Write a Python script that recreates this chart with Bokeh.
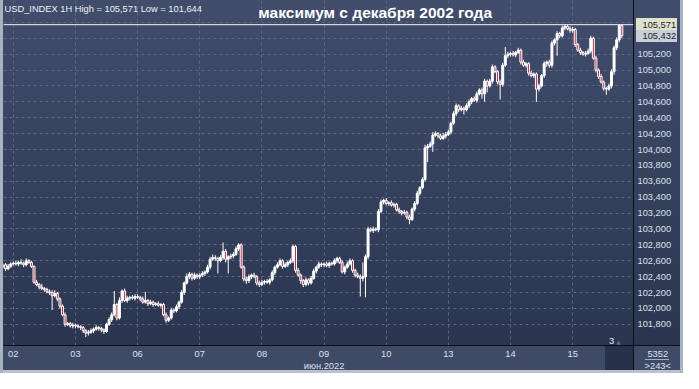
from bokeh.plotting import figure
from bokeh.models import (Range1d, FixedTicker, CustomJSTickFormatter, Span, Label,
                          ColumnDataSource, LinearAxis)
from bokeh.embed import file_html
from bokeh.resources import INLINE

# ---------------- data (USD_INDEX, 1H bars, June 2022) ----------------
day_labels = ["02", "03", "06", "07", "08", "09", "10", "13", "14", "15"]
month_label = "июн.2022"
month_under = "09"
header_text = "USD_INDEX 1H High = 105,571 Low = 101,644"
title_text = "максимум с декабря 2002 года"
corner_texts = ["5352", ">243<"]
period_high = 105.571
price_ticks = [101.8, 102.0, 102.2, 102.4, 102.6, 102.8, 103.0, 103.2, 103.4, 103.6,
               103.8, 104.0, 104.2, 104.4, 104.6, 104.8, 105.0, 105.2, 105.4, 105.6]

first_open = 102.52
close_jun01 = [102.55, 102.50, 102.53, 102.56]
close_jun02 = [102.57, 102.56, 102.58, 102.57, 102.55, 102.60, 102.58, 102.53, 102.33, 102.30,
               102.27, 102.25, 102.24, 102.21, 102.20, 102.16, 102.19, 102.12, 102.03, 101.92,
               101.80, 101.81, 101.78, 101.79]
close_jun03 = [101.78, 101.77, 101.76, 101.72, 101.69, 101.70, 101.72, 101.74, 101.76, 101.75,
               101.73, 101.71, 101.80, 101.86, 101.92, 102.05, 101.88, 102.10, 102.22, 102.10,
               102.13, 102.14, 102.13, 102.15]
close_jun06 = [102.14, 102.12, 102.08, 102.10, 102.06, 102.08, 102.05, 102.06, 102.04, 102.05,
               101.92, 101.85, 101.88, 101.98, 101.97, 102.02, 102.08, 102.20, 102.32, 102.40,
               102.43, 102.38, 102.42, 102.40]
close_jun07 = [102.42, 102.44, 102.46, 102.52, 102.62, 102.64, 102.63, 102.60, 102.64, 102.72,
               102.62, 102.65, 102.66, 102.68, 102.75, 102.80, 102.52, 102.37, 102.35, 102.40,
               102.42, 102.40, 102.32, 102.30]
close_jun08 = [102.33, 102.34, 102.33, 102.36, 102.45, 102.52, 102.55, 102.60, 102.53, 102.55,
               102.58, 102.60, 102.78, 102.48, 102.42, 102.35, 102.30, 102.36, 102.32, 102.38,
               102.47, 102.52, 102.56, 102.55]
close_jun09 = [102.56, 102.54, 102.57, 102.56, 102.60, 102.63, 102.58, 102.46, 102.52, 102.56,
               102.60, 102.48, 102.42, 102.40, 102.38, 102.40, 102.65, 103.00, 102.98, 103.00,
               102.99, 103.22, 103.34, 103.36]
close_jun10 = [103.32, 103.33, 103.30, 103.31, 103.24, 103.22, 103.20, 103.21, 103.15, 103.12,
               103.25, 103.32, 103.45, 103.52, 103.62, 104.02, 104.04, 104.07, 104.18, 104.20,
               104.17, 104.14, 104.17, 104.19]
close_jun13 = [104.22, 104.33, 104.45, 104.55, 104.50, 104.52, 104.50, 104.55, 104.60, 104.64,
               104.62, 104.70, 104.75, 104.70, 104.86, 104.80, 104.86, 105.04, 104.98, 104.85,
               104.82, 105.06, 105.18, 105.20]
close_jun14 = [105.21, 105.19, 105.22, 105.25, 105.10, 105.06, 105.08, 104.96, 104.93, 104.95,
               104.76, 104.80, 104.93, 105.08, 105.10, 105.06, 105.34, 105.38, 105.46, 105.43,
               105.53, 105.55, 105.52, 105.50]
close_jun15 = [105.51, 105.32, 105.25, 105.22, 105.20, 105.21, 105.24, 105.40, 105.15, 105.00,
               104.92, 104.85, 104.77, 104.76, 104.80, 104.98, 105.28, 105.38, 105.56, 105.432]

# upper / lower shadow lengths beyond the body, in 0.01 points
up_jun01 = [2, 2, 3, 2]
dn_jun01 = [2, 3, 2, 2]
up_jun02 = [2, 3, 2, 4, 2, 3, 2, 2, 1, 3, 2, 4, 2, 2, 3, 3, 4, 2, 2, 2, 3, 2, 2, 3]
dn_jun02 = [2, 2, 3, 2, 3, 2, 2, 2, 2, 2, 3, 2, 3, 2, 3, 18, 2, 3, 3, 2, 3, 2, 2, 3]
up_jun03 = [2, 2, 2, 2, 2, 3, 3, 2, 3, 2, 2, 2, 2, 3, 3, 17, 2, 4, 2, 3, 3, 2, 3, 3]
dn_jun03 = [3, 2, 3, 3, 5, 3, 2, 3, 2, 3, 3, 3, 2, 2, 3, 2, 3, 2, 3, 2, 3, 3, 2, 3]
up_jun06 = [3, 2, 3, 11, 2, 3, 2, 2, 3, 2, 2, 3, 2, 3, 2, 3, 2, 3, 2, 4, 3, 2, 3, 2]
dn_jun06 = [2, 3, 2, 2, 3, 2, 3, 2, 2, 3, 2, 3, 2, 2, 3, 2, 3, 2, 3, 2, 3, 3, 2, 3]
up_jun07 = [2, 3, 2, 3, 3, 4, 3, 2, 3, 11, 3, 2, 3, 3, 3, 2, 2, 2, 3, 3, 2, 3, 2, 3]
dn_jun07 = [3, 2, 3, 2, 3, 2, 3, 16, 2, 3, 4, 18, 3, 3, 2, 3, 2, 3, 4, 3, 3, 2, 3, 3]
up_jun08 = [3, 2, 3, 2, 3, 2, 3, 3, 2, 3, 2, 3, 2, 2, 3, 2, 2, 3, 2, 3, 3, 2, 3, 2]
dn_jun08 = [2, 3, 2, 3, 2, 3, 2, 2, 3, 2, 3, 2, 3, 3, 2, 4, 3, 2, 3, 2, 2, 3, 2, 3]
up_jun09 = [2, 3, 2, 2, 3, 2, 2, 3, 2, 3, 3, 2, 2, 3, 3, 18, 3, 3, 2, 3, 2, 3, 3, 2]
dn_jun09 = [3, 2, 3, 2, 2, 3, 2, 2, 3, 2, 2, 3, 3, 2, 23, 4, 26, 3, 2, 3, 2, 3, 2, 3]
up_jun10 = [3, 2, 3, 2, 2, 3, 2, 3, 2, 3, 2, 3, 3, 2, 3, 4, 3, 3, 4, 3, 2, 3, 4, 3]
dn_jun10 = [2, 3, 2, 3, 2, 3, 3, 2, 3, 6, 2, 3, 2, 3, 2, 2, 18, 2, 10, 2, 3, 2, 2, 3]
up_jun13 = [3, 2, 3, 3, 2, 3, 2, 3, 3, 2, 3, 3, 2, 3, 3, 2, 3, 3, 2, 2, 3, 3, 11, 3]
dn_jun13 = [2, 3, 2, 3, 3, 2, 6, 2, 3, 3, 2, 3, 2, 6, 10, 8, 2, 3, 2, 3, 19, 3, 2, 3]
up_jun14 = [2, 3, 2, 3, 2, 3, 2, 2, 3, 2, 2, 3, 2, 3, 2, 3, 3, 2, 3, 2, 3, 2, 2, 3]
dn_jun14 = [3, 2, 3, 2, 3, 2, 3, 3, 2, 3, 16, 3, 2, 3, 4, 3, 3, 3, 20, 3, 2, 3, 2, 3]
up_jun15 = [3, 2, 2, 3, 2, 3, 3, 3, 2, 3, 2, 3, 2, 2, 3, 3, 3, 3, 1, 0]
dn_jun15 = [3, 3, 2, 3, 2, 3, 2, 3, 2, 3, 3, 2, 3, 7, 2, 3, 4, 3, 3, 3]

day_closes = [close_jun02, close_jun03, close_jun06, close_jun07, close_jun08,
              close_jun09, close_jun10, close_jun13, close_jun14, close_jun15]
closes = close_jun01 + sum(day_closes, [])
up_wick = up_jun01 + up_jun02 + up_jun03 + up_jun06 + up_jun07 + up_jun08 + up_jun09 + \
    up_jun10 + up_jun13 + up_jun14 + up_jun15
dn_wick = dn_jun01 + dn_jun02 + dn_jun03 + dn_jun06 + dn_jun07 + dn_jun08 + dn_jun09 + \
    dn_jun10 + dn_jun13 + dn_jun14 + dn_jun15

opens = [first_open] + closes[:-1]
highs = [max(o, c) + u / 100 for o, c, u in zip(opens, closes, up_wick)]
lows = [min(o, c) - d / 100 for o, c, d in zip(opens, closes, dn_wick)]
idx = list(range(len(closes)))
last_close = closes[-1]

day_starts = []
pos = len(close_jun01)
for d in day_closes:
    day_starts.append(pos)
    pos += len(d)

UP_FILL = "#ffffff"
DN_FILL = "#b4233f"
colors = [UP_FILL if c >= o else DN_FILL for o, c in zip(opens, closes)]
src = ColumnDataSource(dict(x=idx, open=opens, close=closes, high=highs, low=lows,
                            top=[max(o, c) for o, c in zip(opens, closes)],
                            bottom=[min(o, c) for o, c in zip(opens, closes)],
                            color=colors))

# ---------------- layout ----------------
W, H = 683, 373
LEFT, RIGHT, BOTTOM = 3, 50, 28
FW, FH = W - LEFT - RIGHT, H - BOTTOM
X0, X1 = 0.22, 243.5
Y0, Y1 = 101.534, 105.875
FONT = "Liberation Sans"
FS = "9.3px"
TXT = "#d9e1ee"

p = figure(width=W, height=H, output_backend="svg", toolbar_location=None,
           x_range=Range1d(X0, X1), y_range=Range1d(Y0, Y1),
           y_axis_location="right", min_border_left=LEFT, min_border_right=RIGHT,
           min_border_bottom=BOTTOM, min_border_top=0)
p.background_fill_alpha = 0
p.border_fill_alpha = 0
p.outline_line_color = None


def ypix(v):
    return (Y1 - v) / (Y1 - Y0) * FH


tag_y1, tag_y2 = ypix(period_high), ypix(last_close)
bg_layers = [
    ("linear-gradient(to right, #a9b2c0 0px, #a9b2c0 3px, transparent 3px)", "0 0", "100% 100%"),
    ("linear-gradient(to left, #a9b2c0 0px, #a9b2c0 3px, transparent 3px)", "0 0", "100% 100%"),
    ("linear-gradient(to top, #b9c2ce 0px, #b9c2ce 3px, transparent 3px)", "0 0", "100% 100%"),
    ("linear-gradient(#dfe2cb, #dfe2cb)", f"{LEFT + FW + 3}px {tag_y1 - 6:.1f}px", "41px 12px"),
    ("linear-gradient(#c9ced8, #c9ced8)", f"{LEFT + FW + 3}px {tag_y2 - 5:.1f}px", "41px 12px"),
    ("linear-gradient(#27314a, #27314a)", f"{LEFT + FW - 28}px {FH + 1}px", "28px 24px"),
    ("linear-gradient(#a3aec0, #a3aec0)", f"{LEFT + FW + 12}px {FH + 14}px", "24px 1px"),
    ("linear-gradient(#0a0e16, #0a0e16)", f"0px {FH}px", "100% 1px"),
    ("linear-gradient(#0a0e16, #0a0e16)", f"{LEFT + FW}px 0px", f"1px {H - 3}px"),
    ("linear-gradient(#3e4a66, #3e4a66)", f"0px {FH}px", "100% 100%"),
    ("linear-gradient(to bottom, #414d6b, #29334d)", "0 0", "100% 100%"),
]
p.styles = {
    "background-image": ", ".join(l[0] for l in bg_layers),
    "background-position": ", ".join(l[1] for l in bg_layers),
    "background-size": ", ".join(l[2] for l in bg_layers),
    "background-repeat": "no-repeat",
}

# grid
p.xgrid.ticker = FixedTicker(ticks=day_starts)
p.ygrid.ticker = FixedTicker(ticks=price_ticks)
for g in (p.xgrid, p.ygrid):
    g.grid_line_color = "#5b6783"
    g.grid_line_dash = "3 3"
    g.grid_line_width = 1

# bottom axis: day labels, month under "09", bar counters in the corner
corner_x = X1 - 0.1
pad = "\u00a0" * 19
xa = p.xaxis[0]
xa.ticker = FixedTicker(ticks=day_starts + [corner_x])
overrides = {}
for s, lab in zip(day_starts, day_labels):
    overrides[s] = lab + "\n" + month_label if lab == month_under else lab
overrides[corner_x] = "\n".join(pad + t for t in corner_texts)
xa.major_label_overrides = overrides

ya = p.yaxis[0]
ya.ticker = FixedTicker(ticks=price_ticks)
ya.formatter = CustomJSTickFormatter(
    code="return tick > 105.3 ? '' : tick.toFixed(3).replace('.', ',');")

# right scale tags (period high and last price)
ta = LinearAxis(ticker=FixedTicker(ticks=[period_high, last_close]),
                formatter=CustomJSTickFormatter(code="return tick.toFixed(3).replace('.', ',');"))
p.add_layout(ta, "right")

for ax in (xa, ya, ta):
    ax.axis_line_color = "#0a0e16"
    ax.major_tick_line_color = None
    ax.minor_tick_line_color = None
    ax.major_tick_out = 0
    ax.major_tick_in = 0
    ax.major_label_text_font = FONT
    ax.major_label_text_font_size = FS
    ax.major_label_text_color = TXT
xa.major_label_standoff = 3
ya.major_label_standoff = 4
ta.axis_line_color = None
ta.major_label_text_color = "#1b1f28"
ta.major_label_standoff = -32

# candles
p.segment(x0="x", y0="low", x1="x", y1="high", source=src, line_color="#ffffff", line_width=1)
p.vbar(x="x", width=0.75, top="top", bottom="bottom", source=src,
       fill_color="color", line_color="#ffffff", line_width=1)

# period-high line
p.add_layout(Span(location=period_high, dimension="width", line_color="#f2f2f2", line_width=1))

# texts inside the chart
p.add_layout(Label(x=1, y=FH - 8, x_units="screen", y_units="screen", text=header_text,
                   text_font=FONT, text_font_size=FS, text_color="#eef1f6",
                   text_baseline="middle", text_align="left"))
p.add_layout(Label(x=FW * 0.59, y=FH - 12, x_units="screen", y_units="screen",
                   text=title_text, text_font=FONT, text_font_size="15.5px",
                   text_font_style="bold", text_color="#ffffff",
                   text_baseline="middle", text_align="center"))
p.add_layout(Label(x=FW - 22, y=5, x_units="screen", y_units="screen", text="3",
                   text_font=FONT, text_font_size=FS, text_color="#e6ebf3",
                   text_baseline="middle", text_align="center"))
p.add_layout(Label(x=FW - 15, y=4, x_units="screen", y_units="screen", text="▲",
                   text_font="DejaVu Sans", text_font_size="6px", text_color="#5b6783",
                   text_baseline="middle", text_align="center"))

open("out.html", "w").write(file_html(p, INLINE))
